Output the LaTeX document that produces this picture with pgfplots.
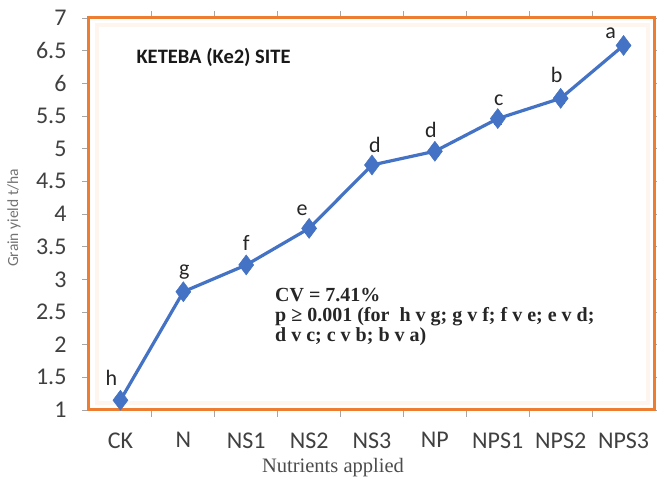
\documentclass[border=0pt]{standalone}
\usepackage{fontspec}
\setmainfont{Carlito}
\newfontfamily\serif{Liberation Serif}
\usepackage{pgfplots}
\pgfplotsset{compat=1.18}
\definecolor{lineblue}{HTML}{4472C4}
\definecolor{frameorange}{HTML}{ED7D31}

\begin{document}
\begin{tikzpicture}[x=1pt,y=1pt]
\useasboundingbox (0,0) rectangle (657,478);
% pale inner band of the chart frame
\draw[frameorange!8, line width=4pt] (97,75) rectangle (648,453);
\begin{axis}[
  at={(89pt,68pt)}, anchor=south west,
  scale only axis, width=566pt, height=392pt,
  xmin=-0.5, xmax=8.5, ymin=1, ymax=7,
  xtick={0,...,8},
  xticklabels={CK,N,NS1,NS2,NS3,NP,NPS1,NPS2,NPS3},
  major x tick style={draw=none},
  minor xtick={0.5,1.5,...,7.5},
  ytick={1,1.5,...,7},
  tick align=outside,
  major tick length=7pt, minor tick length=7pt,
  tick style={draw=gray!70, line width=0.8pt},
  axis line style={draw=frameorange, line width=3pt},
  /pgf/number format/assume math mode=true,
  ticklabel style={font=\fontsize{24}{24}\selectfont, text=black!75},
  yticklabel style={xshift=-12pt},
  xticklabel style={yshift=-12pt},
  clip=false,
]
\addplot[lineblue, line width=3.2pt, mark=diamond*, mark size=10pt,
  mark options={fill=lineblue, draw=lineblue, line width=0.5pt},
  error bars/.cd, y dir=both, y explicit,
  error bar style={lineblue, line width=1pt}, error mark options={rotate=90, mark size=4pt, lineblue}]
  table[x=x, y=y, y error=e] {
  x y    e
  0 1.15 0.05
  1 2.81 0.07
  2 3.22 0.07
  3 3.78 0.07
  4 4.75 0.07
  5 4.96 0.08
  6 5.46 0.08
  7 5.77 0.07
  8 6.58 0.06
};
% significance letters above the means
\begin{scope}[every node/.style={anchor=base, font=\fontsize{22}{22}\selectfont, text=black!85}]
\node[xshift=-9pt, yshift=15pt] at (axis cs:0,1.15) {h};
\node[xshift=1pt,  yshift=16pt] at (axis cs:1,2.81) {g};
\node[xshift=0pt,  yshift=14pt] at (axis cs:2,3.22) {f};
\node[xshift=-7pt, yshift=13pt] at (axis cs:3,3.78) {e};
\node[xshift=3pt,  yshift=12pt] at (axis cs:4,4.75) {d};
\node[xshift=-4pt, yshift=14pt] at (axis cs:5,4.96) {d};
\node[xshift=1pt,  yshift=13pt] at (axis cs:6,5.46) {c};
\node[xshift=-4pt, yshift=16pt] at (axis cs:7,5.77) {b};
\node[xshift=-13pt,yshift=7pt]  at (axis cs:8,6.58) {a};
\end{scope}
\end{axis}
% titles and notes
\node[anchor=west, font=\bfseries\fontsize{20.5}{20.5}\selectfont, text=black!90] at (133,421) {KETEBA (Ke2) SITE};
\node[anchor=north west, align=left, inner sep=0pt,
  font=\serif\bfseries\fontsize{20}{20}\selectfont, text=black!85] at (275,190)
  {CV = 7.41\%\\p ≥ 0.001 (for\ \ h v g; g v f; f v e; e v d;\\d v c; c v b; b v a)};
\node[font=\serif\fontsize{20.5}{20.5}\selectfont, text=black!70] at (333,10) {Nutrients applied};
\node[rotate=90, font=\fontsize{15.5}{15.5}\selectfont, text=black!55] at (14,260) {Grain yield t/ha};
\end{tikzpicture}
\end{document}
